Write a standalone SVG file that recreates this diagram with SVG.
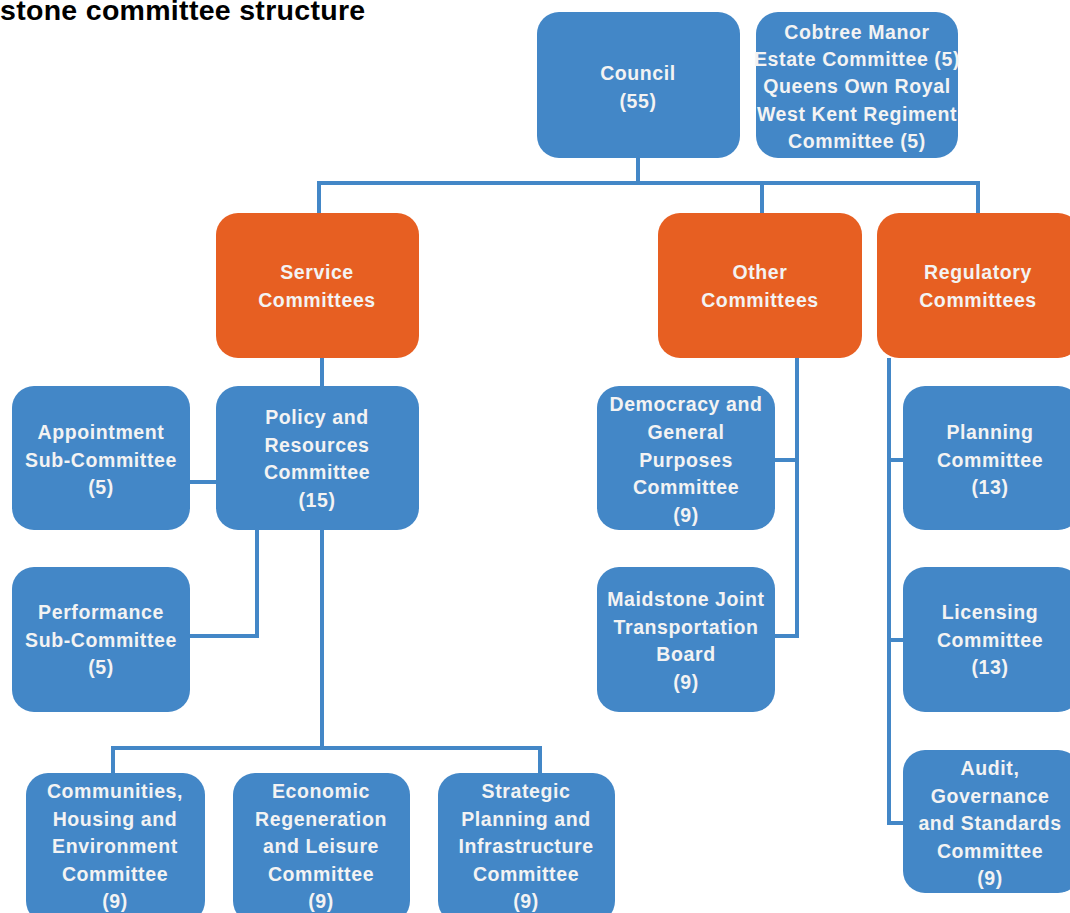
<svg xmlns="http://www.w3.org/2000/svg" width="1070" height="913" viewBox="0 0 1070 913">
<style>
.b{fill:#4387c7}
.o{fill:#e75f22}
.t{font-family:"Liberation Sans",Arial,sans-serif;font-weight:bold;font-size:19.5px;fill:#f3f3f3;text-anchor:middle;letter-spacing:0.6px}
.c{stroke:#4387c7;stroke-width:4;fill:none}
.title{font-family:"Liberation Sans",Arial,sans-serif;font-weight:bold;font-size:28.5px;fill:#000;letter-spacing:0.3px}
</style>
<rect width="1070" height="913" fill="#fff"/>
<text class="title" x="0" y="20">stone committee structure</text>
<g id="connectors">
<path class="c" d="M638 158V183M319 183H978M319 181V213M762 181V213M978 181V213"/>
<path class="c" d="M322 358V386M190 482H216M257 530V636H190M322 530V748M113 748H540M113 746V773M540 746V773"/>
<path class="c" d="M797 358V636H775M775 460H797"/>
<path class="c" d="M889 358V823H903M889 460H903M889 640H903"/>
</g>
<g id="council"><rect class="b" x="537" y="12" width="203" height="146" rx="22"/>
<text class="t" x="638" y="80">Council</text><text class="t" x="638" y="108">(55)</text></g>
<g id="cobtree"><rect class="b" x="756" y="12" width="202" height="146" rx="22"/>
<text class="t" x="857" y="39">Cobtree Manor</text><text class="t" x="857" y="66">Estate Committee (5)</text><text class="t" x="857" y="93">Queens Own Royal</text><text class="t" x="857" y="121">West Kent Regiment</text><text class="t" x="857" y="148">Committee (5)</text></g>
<g id="service"><rect class="o" x="216" y="213" width="203" height="145" rx="22"/>
<text class="t" x="317" y="279">Service</text><text class="t" x="317" y="307">Committees</text></g>
<g id="other"><rect class="o" x="658" y="213" width="204" height="145" rx="22"/>
<text class="t" x="760" y="279">Other</text><text class="t" x="760" y="307">Committees</text></g>
<g id="regulatory"><rect class="o" x="877" y="213" width="203" height="145" rx="22"/>
<text class="t" x="978" y="279">Regulatory</text><text class="t" x="978" y="307">Committees</text></g>
<g id="policy"><rect class="b" x="216" y="386" width="203" height="144" rx="22"/>
<text class="t" x="317" y="424">Policy and</text><text class="t" x="317" y="452">Resources</text><text class="t" x="317" y="479">Committee</text><text class="t" x="317" y="507">(15)</text></g>
<g id="appointment"><rect class="b" x="12" y="386" width="178" height="144" rx="22"/>
<text class="t" x="101" y="439">Appointment</text><text class="t" x="101" y="467">Sub-Committee</text><text class="t" x="101" y="494">(5)</text></g>
<g id="performance"><rect class="b" x="12" y="567" width="178" height="145" rx="22"/>
<text class="t" x="101" y="619">Performance</text><text class="t" x="101" y="647">Sub-Committee</text><text class="t" x="101" y="674">(5)</text></g>
<g id="communities"><rect class="b" x="26" y="773" width="179" height="150" rx="22"/>
<text class="t" x="115" y="798">Communities,</text><text class="t" x="115" y="826">Housing and</text><text class="t" x="115" y="853">Environment</text><text class="t" x="115" y="881">Committee</text><text class="t" x="115" y="908">(9)</text></g>
<g id="economic"><rect class="b" x="233" y="773" width="177" height="150" rx="22"/>
<text class="t" x="321" y="798">Economic</text><text class="t" x="321" y="826">Regeneration</text><text class="t" x="321" y="853">and Leisure</text><text class="t" x="321" y="881">Committee</text><text class="t" x="321" y="908">(9)</text></g>
<g id="strategic"><rect class="b" x="438" y="773" width="177" height="150" rx="22"/>
<text class="t" x="526" y="798">Strategic</text><text class="t" x="526" y="826">Planning and</text><text class="t" x="526" y="853">Infrastructure</text><text class="t" x="526" y="881">Committee</text><text class="t" x="526" y="908">(9)</text></g>
<g id="democracy"><rect class="b" x="597" y="386" width="178" height="144" rx="22"/>
<text class="t" x="686" y="411">Democracy and</text><text class="t" x="686" y="439">General</text><text class="t" x="686" y="467">Purposes</text><text class="t" x="686" y="494">Committee</text><text class="t" x="686" y="522">(9)</text></g>
<g id="maidstone"><rect class="b" x="597" y="567" width="178" height="145" rx="22"/>
<text class="t" x="686" y="606">Maidstone Joint</text><text class="t" x="686" y="634">Transportation</text><text class="t" x="686" y="661">Board</text><text class="t" x="686" y="689">(9)</text></g>
<g id="planning"><rect class="b" x="903" y="386" width="177" height="144" rx="22"/>
<text class="t" x="990" y="439">Planning</text><text class="t" x="990" y="467">Committee</text><text class="t" x="990" y="494">(13)</text></g>
<g id="licensing"><rect class="b" x="903" y="567" width="177" height="145" rx="22"/>
<text class="t" x="990" y="619">Licensing</text><text class="t" x="990" y="647">Committee</text><text class="t" x="990" y="674">(13)</text></g>
<g id="audit"><rect class="b" x="903" y="750" width="177" height="143" rx="22"/>
<text class="t" x="990" y="775">Audit,</text><text class="t" x="990" y="803">Governance</text><text class="t" x="990" y="830">and Standards</text><text class="t" x="990" y="858">Committee</text><text class="t" x="990" y="885">(9)</text></g>
</svg>
